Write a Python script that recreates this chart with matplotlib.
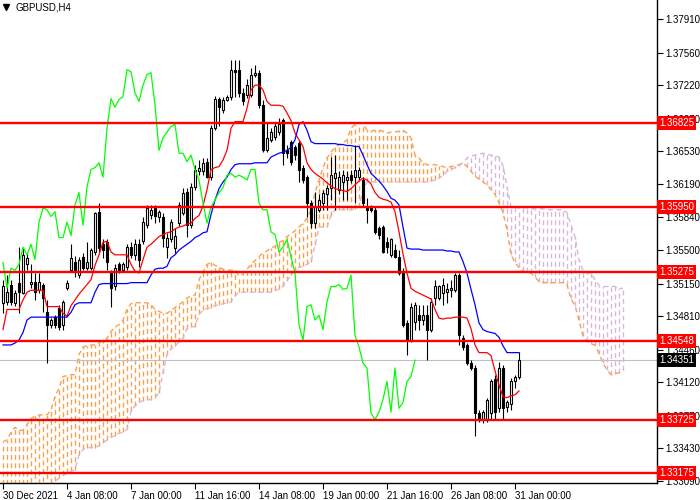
import numpy as np
import matplotlib
matplotlib.use("Agg")
import matplotlib.pyplot as plt
import matplotlib.transforms as mtransforms

plt.rcParams["font.family"] = ["Liberation Sans", "DejaVu Sans"]

symbol = "GBPUSD,H4"

# H4 candles, one value per bar
bar_open = [
    1.3495, 1.3496, 1.3514, 1.3495, 1.3516, 1.3505, 1.3535, 1.3515, 1.3517, 1.3508,
    1.3514, 1.3485, 1.3472, 1.3480, 1.3490, 1.3472, 1.3510, 1.3529, 1.3537, 1.3524,
    1.3543, 1.3531, 1.3531, 1.3548, 1.3590, 1.3556, 1.3558, 1.3526, 1.3512, 1.3535,
    1.3529, 1.3532, 1.3553, 1.3545, 1.3556, 1.3559, 1.3576, 1.3587, 1.3594, 1.3584,
    1.3584, 1.3553, 1.3561, 1.3552, 1.3578, 1.3589, 1.3611, 1.3576, 1.3616, 1.3632,
    1.3632, 1.3642, 1.3626, 1.3677, 1.3708, 1.3696, 1.3707, 1.3710, 1.3738, 1.3738,
    1.3714, 1.3712, 1.3712, 1.3733, 1.3735, 1.3701, 1.3654, 1.3665, 1.3668, 1.3673,
    1.3686, 1.3654, 1.3663, 1.3657, 1.3662, 1.3636, 1.3626, 1.3599, 1.3578, 1.3592,
    1.3599, 1.3608, 1.3615, 1.3625, 1.3613, 1.3621, 1.3623, 1.3628, 1.3626, 1.3626,
    1.3623, 1.3595, 1.3595, 1.3592, 1.3573, 1.3574, 1.3558, 1.3545, 1.3550, 1.3543,
    1.3526, 1.3474, 1.3456, 1.3475, 1.3482, 1.3477, 1.3482, 1.3467, 1.3500, 1.3500,
    1.3505, 1.3506, 1.3508, 1.3508, 1.3524, 1.3458, 1.3451, 1.3432, 1.3427, 1.3380,
    1.3373, 1.3373, 1.3380, 1.3415, 1.3385, 1.3427, 1.3386, 1.3389, 1.3413, 1.3418,
]
bar_high = [
    1.3519, 1.3524, 1.3519, 1.3508, 1.3553, 1.3552, 1.3547, 1.3535, 1.3526, 1.3526,
    1.3516, 1.3498, 1.3479, 1.3482, 1.3493, 1.3498, 1.3519, 1.3556, 1.3544, 1.3543,
    1.3547, 1.3558, 1.3552, 1.3590, 1.3599, 1.3561, 1.3561, 1.3529, 1.3535, 1.3538,
    1.3538, 1.3556, 1.3558, 1.3561, 1.3561, 1.3584, 1.3597, 1.3597, 1.3597, 1.3592,
    1.3589, 1.3568, 1.3582, 1.3573, 1.3600, 1.3615, 1.3615, 1.3620, 1.3639, 1.3644,
    1.3646, 1.3646, 1.3680, 1.3711, 1.3710, 1.3710, 1.3712, 1.3748, 1.3748, 1.3748,
    1.3719, 1.3728, 1.3740, 1.3743, 1.3738, 1.3707, 1.3684, 1.3677, 1.3684, 1.3688,
    1.3688, 1.3660, 1.3665, 1.3660, 1.3665, 1.3639, 1.3628, 1.3602, 1.3611, 1.3608,
    1.3613, 1.3618, 1.3647, 1.3649, 1.3632, 1.3634, 1.3632, 1.3634, 1.3660, 1.3637,
    1.3626, 1.3604, 1.3597, 1.3595, 1.3575, 1.3576, 1.3564, 1.3563, 1.3556, 1.3550,
    1.3531, 1.3477, 1.3495, 1.3496, 1.3493, 1.3493, 1.3493, 1.3500, 1.3519, 1.3514,
    1.3521, 1.3516, 1.3519, 1.3526, 1.3526, 1.3461, 1.3453, 1.3435, 1.3430, 1.3383,
    1.3383, 1.3396, 1.3415, 1.3420, 1.3433, 1.3430, 1.3394, 1.3417, 1.3420, 1.3444,
]
bar_low = [
    1.3484, 1.3493, 1.3493, 1.3492, 1.3484, 1.3504, 1.3529, 1.3510, 1.3498, 1.3505,
    1.3485, 1.3432, 1.3469, 1.3469, 1.3467, 1.3467, 1.3508, 1.3527, 1.3522, 1.3521,
    1.3529, 1.3529, 1.3529, 1.3545, 1.3548, 1.3542, 1.3529, 1.3491, 1.3508, 1.3526,
    1.3527, 1.3529, 1.3542, 1.3540, 1.3532, 1.3556, 1.3573, 1.3582, 1.3578, 1.3579,
    1.3553, 1.3542, 1.3558, 1.3547, 1.3575, 1.3587, 1.3564, 1.3573, 1.3613, 1.3628,
    1.3628, 1.3625, 1.3623, 1.3675, 1.3679, 1.3693, 1.3705, 1.3707, 1.3710, 1.3710,
    1.3701, 1.3709, 1.3710, 1.3730, 1.3698, 1.3652, 1.3652, 1.3663, 1.3665, 1.3670,
    1.3639, 1.3646, 1.3639, 1.3644, 1.3621, 1.3620, 1.3584, 1.3573, 1.3573, 1.3590,
    1.3592, 1.3592, 1.3602, 1.3592, 1.3608, 1.3602, 1.3602, 1.3620, 1.3599, 1.3623,
    1.3595, 1.3578, 1.3590, 1.3567, 1.3561, 1.3547, 1.3547, 1.3543, 1.3542, 1.3524,
    1.3470, 1.3441, 1.3454, 1.3467, 1.3467, 1.3472, 1.3435, 1.3465, 1.3493, 1.3498,
    1.3493, 1.3495, 1.3501, 1.3506, 1.3451, 1.3446, 1.3430, 1.3425, 1.3356, 1.3371,
    1.3370, 1.3371, 1.3373, 1.3373, 1.3381, 1.3373, 1.3381, 1.3383, 1.3406, 1.3415,
]
bar_close = [
    1.3512, 1.3506, 1.3496, 1.3505, 1.3506, 1.3545, 1.3542, 1.3517, 1.3506, 1.3517,
    1.3500, 1.3472, 1.3477, 1.3472, 1.3470, 1.3496, 1.3516, 1.3542, 1.3527, 1.3540,
    1.3531, 1.3538, 1.3550, 1.3589, 1.3552, 1.3550, 1.3537, 1.3510, 1.3531, 1.3529,
    1.3535, 1.3553, 1.3545, 1.3556, 1.3540, 1.3579, 1.3594, 1.3592, 1.3585, 1.3590,
    1.3563, 1.3563, 1.3579, 1.3565, 1.3597, 1.3610, 1.3576, 1.3616, 1.3634, 1.3636,
    1.3641, 1.3626, 1.3677, 1.3708, 1.3699, 1.3707, 1.3710, 1.3738, 1.3736, 1.3714,
    1.3705, 1.3722, 1.3733, 1.3735, 1.3701, 1.3654, 1.3667, 1.3673, 1.3679, 1.3681,
    1.3651, 1.3651, 1.3642, 1.3649, 1.3634, 1.3623, 1.3599, 1.3578, 1.3595, 1.3602,
    1.3610, 1.3615, 1.3628, 1.3630, 1.3626, 1.3628, 1.3626, 1.3623, 1.3634, 1.3634,
    1.3599, 1.3592, 1.3592, 1.3569, 1.3566, 1.3548, 1.3553, 1.3561, 1.3543, 1.3526,
    1.3472, 1.3456, 1.3491, 1.3493, 1.3477, 1.3482, 1.3467, 1.3496, 1.3512, 1.3512,
    1.3514, 1.3509, 1.3510, 1.3524, 1.3461, 1.3449, 1.3432, 1.3427, 1.3380, 1.3373,
    1.3381, 1.3394, 1.3413, 1.3381, 1.3427, 1.3385, 1.3391, 1.3413, 1.3418, 1.34351,
]

# Ichimoku lines
tenkan = [
    1.3467, 1.3488, 1.3488, 1.3488, 1.3488, 1.3498, 1.3506, 1.3508, 1.3508, 1.3508,
    1.3508, 1.3491, 1.3491, 1.3491, 1.3491, 1.3484, 1.3481, 1.3492, 1.3498, 1.3504,
    1.3509, 1.3514, 1.3519, 1.3534, 1.3545, 1.3558, 1.3559, 1.3548, 1.3545, 1.3545,
    1.3545, 1.3545, 1.3535, 1.3528, 1.3526, 1.3540, 1.3553, 1.3556, 1.3560, 1.3564,
    1.3566, 1.3568, 1.3569, 1.3572, 1.3574, 1.3575, 1.3577, 1.3578, 1.3583, 1.3586,
    1.3596, 1.3613, 1.3634, 1.3636, 1.3637, 1.3644, 1.3654, 1.3677, 1.3684, 1.3684,
    1.3684, 1.3698, 1.3717, 1.3722, 1.3722, 1.3717, 1.3705, 1.3701, 1.3701, 1.3701,
    1.3700, 1.3693, 1.3685, 1.3672, 1.3665, 1.3658, 1.3641, 1.3634, 1.3630, 1.3627,
    1.3624, 1.3620, 1.3617, 1.3614, 1.3613, 1.3612, 1.3611, 1.3614, 1.3618, 1.3622,
    1.3625, 1.3623, 1.3619, 1.3610, 1.3605, 1.3603, 1.3602, 1.3600, 1.3590, 1.3569,
    1.3546, 1.3526, 1.3510, 1.3507, 1.3505, 1.3503, 1.3501, 1.3499, 1.3488, 1.3479,
    1.3478, 1.3479, 1.3479, 1.3480, 1.3480, 1.3480, 1.3479, 1.3468, 1.3451, 1.3443,
    1.3443, 1.3443, 1.3440, 1.3424, 1.3409, 1.3397, 1.3396, 1.3398, 1.3399, 1.3403,
]
kijun = [
    1.3451, 1.3451, 1.3451, 1.3453, 1.3456, 1.3464, 1.3477, 1.3480, 1.3480, 1.3480,
    1.3480, 1.3480, 1.3480, 1.3480, 1.3480, 1.3480, 1.3480, 1.3485, 1.3493, 1.3495,
    1.3495, 1.3495, 1.3495, 1.3506, 1.3514, 1.3515, 1.3515, 1.3515, 1.3515, 1.3515,
    1.3515, 1.3515, 1.3516, 1.3516, 1.3516, 1.3516, 1.3516, 1.3524, 1.3530, 1.3531,
    1.3531, 1.3533, 1.3542, 1.3545, 1.3550, 1.3553, 1.3556, 1.3559, 1.3563, 1.3565,
    1.3568, 1.3569, 1.3587, 1.3602, 1.3614, 1.3621, 1.3626, 1.3634, 1.3639, 1.3640,
    1.3640, 1.3640, 1.3640, 1.3641, 1.3641, 1.3641, 1.3641, 1.3647, 1.3649, 1.3651,
    1.3652, 1.3654, 1.3657, 1.3665, 1.3681, 1.3684, 1.3675, 1.3663, 1.3661, 1.3661,
    1.3661, 1.3661, 1.3661, 1.3661, 1.3660, 1.3660, 1.3659, 1.3659, 1.3658, 1.3658,
    1.3649, 1.3639, 1.3630, 1.3626, 1.3622, 1.3617, 1.3611, 1.3604, 1.3602, 1.3597,
    1.3574, 1.3552, 1.3551, 1.3551, 1.3551, 1.3550, 1.3550, 1.3550, 1.3550, 1.3550,
    1.3550, 1.3549, 1.3549, 1.3548, 1.3548, 1.3538, 1.3526, 1.3509, 1.3493, 1.3474,
    1.3467, 1.3465, 1.3464, 1.3463, 1.3459, 1.3450, 1.3443, 1.3443, 1.3443, 1.3443,
]
span_a = [
    1.3350, 1.3352, 1.3360, 1.3365, 1.3362, 1.3362, 1.3368, 1.3374, 1.3377, 1.3378,
    1.3378, 1.3378, 1.3383, 1.3397, 1.3406, 1.3418, 1.3419, 1.3420, 1.3420, 1.3441,
    1.3449, 1.3450, 1.3451, 1.3451, 1.3453, 1.3456, 1.3458, 1.3465, 1.3470, 1.3472,
    1.3477, 1.3488, 1.3494, 1.3495, 1.3495, 1.3495, 1.3495, 1.3493, 1.3488, 1.3486,
    1.3484, 1.3484, 1.3487, 1.3490, 1.3493, 1.3496, 1.3500, 1.3502, 1.3503, 1.3519,
    1.3527, 1.3535, 1.3537, 1.3534, 1.3532, 1.3530, 1.3529, 1.3529, 1.3529, 1.3523,
    1.3525, 1.3530, 1.3535, 1.3539, 1.3543, 1.3547, 1.3549, 1.3552, 1.3554, 1.3558,
    1.3560, 1.3564, 1.3567, 1.3570, 1.3574, 1.3578, 1.3583, 1.3592, 1.3610, 1.3623,
    1.3636, 1.3646, 1.3652, 1.3657, 1.3660, 1.3662, 1.3665, 1.3677, 1.3681, 1.3683,
    1.3682, 1.3675, 1.3674, 1.3675, 1.3675, 1.3674, 1.3672, 1.3673, 1.3673, 1.3674,
    1.3675, 1.3672, 1.3667, 1.3649, 1.3646, 1.3641, 1.3639, 1.3639, 1.3639, 1.3638,
    1.3637, 1.3636, 1.3637, 1.3638, 1.3639, 1.3641, 1.3637, 1.3632, 1.3627, 1.3624,
    1.3621, 1.3618, 1.3613, 1.3608, 1.3599, 1.3589, 1.3571, 1.3545, 1.3537, 1.3532,
    1.3528, 1.3527, 1.3526, 1.3522, 1.3517, 1.3516, 1.3516, 1.3516, 1.3516, 1.3516,
    1.3516, 1.3514, 1.3499, 1.3492, 1.3477, 1.3460, 1.3455, 1.3452, 1.3451, 1.3442,
    1.3432, 1.3425, 1.3420, 1.3421, 1.3422, 1.3425,
]
span_b = [
    1.3269, 1.3269, 1.3271, 1.3274, 1.3277, 1.3279, 1.3284, 1.3290, 1.3295, 1.3298,
    1.3300, 1.3303, 1.3307, 1.3309, 1.3312, 1.3315, 1.3317, 1.3319, 1.3321, 1.3336,
    1.3342, 1.3344, 1.3344, 1.3344, 1.3346, 1.3349, 1.3352, 1.3355, 1.3356, 1.3359,
    1.3360, 1.3363, 1.3382, 1.3387, 1.3391, 1.3393, 1.3394, 1.3394, 1.3396, 1.3401,
    1.3422, 1.3441, 1.3447, 1.3450, 1.3454, 1.3458, 1.3468, 1.3470, 1.3470, 1.3483,
    1.3487, 1.3489, 1.3490, 1.3492, 1.3493, 1.3494, 1.3495, 1.3496, 1.3502, 1.3506,
    1.3506, 1.3506, 1.3506, 1.3506, 1.3506, 1.3506, 1.3506, 1.3506, 1.3508, 1.3509,
    1.3512, 1.3518, 1.3524, 1.3528, 1.3532, 1.3533, 1.3535, 1.3538, 1.3555, 1.3574,
    1.3574, 1.3574, 1.3586, 1.3592, 1.3592, 1.3592, 1.3592, 1.3592, 1.3593, 1.3595,
    1.3613, 1.3621, 1.3621, 1.3621, 1.3621, 1.3621, 1.3621, 1.3621, 1.3621, 1.3621,
    1.3621, 1.3621, 1.3621, 1.3621, 1.3621, 1.3621, 1.3621, 1.3622, 1.3623, 1.3625,
    1.3628, 1.3632, 1.3634, 1.3636, 1.3638, 1.3641, 1.3646, 1.3648, 1.3649, 1.3650,
    1.3651, 1.3650, 1.3649, 1.3648, 1.3647, 1.3638, 1.3616, 1.3595, 1.3594, 1.3594,
    1.3594, 1.3594, 1.3593, 1.3593, 1.3593, 1.3593, 1.3592, 1.3592, 1.3592, 1.3592,
    1.3592, 1.3589, 1.3576, 1.3564, 1.3540, 1.3529, 1.3526, 1.3526, 1.3519, 1.3513,
    1.3512, 1.3512, 1.3512, 1.3512, 1.3510, 1.3510,
]
chikou_shift = 26

levels = [1.36825, 1.35950, 1.35275, 1.34548, 1.33725, 1.33175]
last_price = 1.34351

price_ticks = [1.37910, 1.37560, 1.37220, 1.36870, 1.36530, 1.36190, 1.35840,
               1.35500, 1.35150, 1.34810, 1.34460, 1.34120, 1.33770, 1.33430, 1.33090]
time_ticks = [0, 16, 32, 48, 64, 80, 96, 112, 128]
time_labels = ["30 Dec 2021", "4 Jan 08:00", "7 Jan 00:00", "11 Jan 16:00",
               "14 Jan 08:00", "19 Jan 00:00", "21 Jan 16:00", "26 Jan 08:00",
               "31 Jan 00:00"]

o = np.array(bar_open)
h = np.array(bar_high)
l = np.array(bar_low)
c = np.array(bar_close)
bars = np.arange(len(c))
sa = np.array(span_a)
sb = np.array(span_b)
cloud_x = np.arange(len(sa))

fig = plt.figure(figsize=(7, 5), dpi=100)
ax = fig.add_axes([0, 17 / 500, 657 / 700, 483 / 500])
ax.set_xlim(-0.75, 163.5)
ax.set_ylim(1.33070, 1.38108)

# kumo: dotted vertical hatching like MT4, one dashed stroke per bar
orange = "#f7a050"
lilac = "#d8b8d8"
dash = (0, (3.5, 2.5))
for i in cloud_x:
    col = orange if sa[i] >= sb[i] else lilac
    ax.plot([i, i], [min(sa[i], sb[i]), max(sa[i], sb[i])], color=col,
            lw=1.0, ls=dash, solid_capstyle="butt", zorder=1)
ax.plot(cloud_x, sa, color=orange, lw=1.0, ls=dash, zorder=1.1)
ax.plot(cloud_x, sb, color=lilac, lw=1.0, ls=dash, zorder=1.1)

ax.axhline(last_price, color="#c0c0c0", lw=0.8, zorder=1.5)

# candles
ax.vlines(bars, l, h, color="black", lw=0.8, zorder=2.9)
up = c >= o
body_cols = np.where(up, "white", "black")
body_h = np.abs(c - o)
body_h = np.where(body_h < 0.00002, 0.00002, body_h)
ax.bar(bars, body_h, bottom=np.minimum(o, c), width=0.62, color=body_cols,
       edgecolor="black", linewidth=0.8, zorder=3)

ax.plot(bars, tenkan, color="red", lw=0.9, zorder=3.5)
ax.plot(bars, kijun, color="blue", lw=0.9, zorder=3.5)
ax.plot(bars[:-chikou_shift], c[chikou_shift:], color="lime", lw=0.9, zorder=3.5)

trans = mtransforms.blended_transform_factory(ax.transAxes, ax.transData)
for lv in levels:
    ax.axhline(lv, color="red", lw=1.7, zorder=4)
    ax.text(1 + 2 / 657, lv, f"{lv:.5f}", transform=trans, color="white",
            fontsize=7, va="center", ha="left", clip_on=False, zorder=10,
            bbox=dict(boxstyle="square,pad=0.2", fc="red", ec="none"))
ax.text(1 + 2 / 657, last_price, f"{last_price:.5f}", transform=trans, color="white",
        fontsize=7, va="center", ha="left", clip_on=False, zorder=10,
        bbox=dict(boxstyle="square,pad=0.2", fc="black", ec="none"))

# axes styling
for side in ["left", "top"]:
    ax.spines[side].set_visible(False)
ax.spines["right"].set_linewidth(1)
ax.spines["bottom"].set_linewidth(1)
ax.yaxis.tick_right()
ax.set_yticks(price_ticks)
ax.set_yticklabels([f"{p:.5f}" for p in price_ticks])
ax.tick_params(axis="y", length=4, width=0.8, pad=2, labelsize=7)
ax.set_xticks(time_ticks)
ax.set_xticklabels(time_labels)
ax.tick_params(axis="x", length=4, width=0.8, pad=1.5, labelsize=7)
for lab in ax.get_xticklabels():
    lab.set_ha("left")

ax.plot([6 / 657], [1 - 7 / 483], marker="v", ms=4.5, color="black",
        transform=ax.transAxes, clip_on=False, zorder=10)
ax.text(15 / 657, 1 - 7 / 483, symbol, transform=ax.transAxes, fontsize=7,
        va="center", ha="left", zorder=10)

fig.savefig("out.png", dpi=100)
